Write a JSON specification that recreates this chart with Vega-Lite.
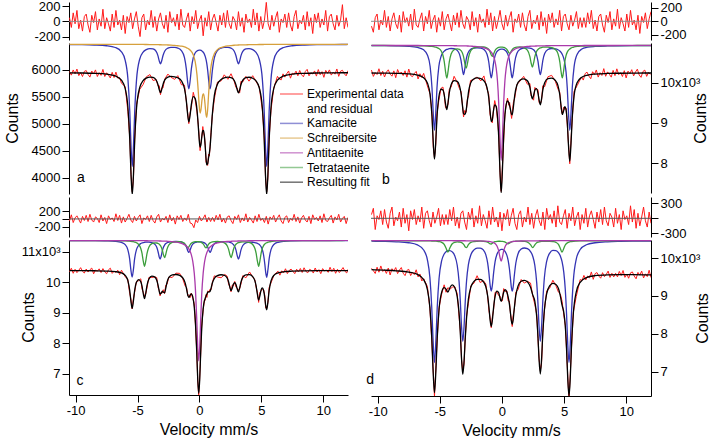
{
"$schema":"https://vega.github.io/schema/vega-lite/v6.json",
"background":"white",
"padding":{"left":4,"top":0,"right":0,"bottom":0},
"config":{
"view":{"stroke":null},
"font":"Liberation Sans",
"locale":{"number":{"decimal":".","thousands":",","grouping":[3],"currency":["$",""],"minus":"-"}},
"axis":{"grid":false,"domainColor":"#000","tickColor":"#000","labelColor":"#000","titleColor":"#000","labelFont":"Liberation Sans","titleFont":"Liberation Sans","labelFontSize":13,"titleFontSize":16,"titleFontWeight":"normal","tickSize":7,"labelPadding":2,"labelOverlap":false,"labelBound":false,"labelFlush":false},
"legend":{"orient":"none","legendX":210,"legendY":86,"symbolType":"stroke","symbolStrokeWidth":1.5,"symbolSize":529,"clipHeight":12,"rowPadding":2.7,"labelFontSize":12,"labelFont":"Liberation Sans","labelColor":"#000","labelOffset":3,"symbolOpacity":0.55,"padding":0}
},
"datasets":{
"res":[
{"x":-10.5,"a":48,"b":-72,"c":-52,"d":75},{"x":-10.35,"a":-80,"b":-162,"c":104,"d":200},{"x":-10.2,"a":112,"b":54,"c":-91,"d":-225},{"x":-10.05,"a":-32,"b":108,"c":26,"d":50},{"x":-9.9,"a":144,"b":-126,"c":78,"d":-25},{"x":-9.75,"a":-96,"b":18,"c":-13,"d":150},{"x":-9.6,"a":16,"b":-54,"c":-104,"d":-125},{"x":-9.45,"a":-128,"b":162,"c":65,"d":175},{"x":-9.3,"a":64,"b":-90,"c":-39,"d":-75},{"x":-9.15,"a":96,"b":72,"c":91,"d":-200},
{"x":-9.0,"a":-48,"b":-144,"c":-65,"d":100},{"x":-8.85,"a":-144,"b":36,"c":117,"d":225},{"x":-8.7,"a":80,"b":126,"c":-26,"d":-150},{"x":-8.55,"a":-16,"b":-36,"c":-78,"d":25},{"x":-8.4,"a":128,"b":-108,"c":52,"d":-50},{"x":-8.25,"a":-112,"b":90,"c":13,"d":125},{"x":-8.1,"a":32,"b":-162,"c":-91,"d":-175},{"x":-7.95,"a":-64,"b":144,"c":104,"d":200},{"x":-7.8,"a":160,"b":-18,"c":-52,"d":-100},{"x":-7.65,"a":-96,"b":54,"c":39,"d":75},
{"x":-7.5,"a":48,"b":-72,"c":-117,"d":-250},{"x":-7.35,"a":-32,"b":108,"c":78,"d":150},{"x":-7.2,"a":-128,"b":-126,"c":-13,"d":-25},{"x":-7.05,"a":96,"b":180,"c":26,"d":175},{"x":-6.9,"a":-80,"b":-54,"c":-65,"d":-125},{"x":-6.75,"a":144,"b":-90,"c":130,"d":50},{"x":-6.6,"a":-48,"b":36,"c":-39,"d":-75},{"x":-6.45,"a":16,"b":126,"c":91,"d":225},{"x":-6.3,"a":-112,"b":-144,"c":-104,"d":-200},{"x":-6.15,"a":80,"b":72,"c":52,"d":100},
{"x":-6.0,"a":-160,"b":-36,"c":-78,"d":150},{"x":-5.85,"a":64,"b":162,"c":13,"d":-50},{"x":-5.7,"a":-16,"b":-108,"c":117,"d":-175},{"x":-5.55,"a":112,"b":18,"c":-26,"d":125},{"x":-5.4,"a":-96,"b":90,"c":-91,"d":-100},{"x":-5.25,"a":32,"b":-162,"c":65,"d":25},{"x":-5.1,"a":128,"b":54,"c":-52,"d":200},{"x":-4.95,"a":-64,"b":-72,"c":39,"d":-150},{"x":-4.8,"a":-200,"b":144,"c":104,"d":75},{"x":-4.65,"a":48,"b":-126,"c":-117,"d":-125},
{"x":-4.5,"a":96,"b":36,"c":26,"d":75},{"x":-4.35,"a":-112,"b":108,"c":-13,"d":-125},{"x":-4.2,"a":16,"b":-18,"c":78,"d":175},{"x":-4.05,"a":-48,"b":-144,"c":-65,"d":-50},{"x":-3.9,"a":144,"b":90,"c":91,"d":225},{"x":-3.75,"a":-80,"b":-54,"c":-39,"d":-150},{"x":-3.6,"a":64,"b":126,"c":-104,"d":25},{"x":-3.45,"a":-128,"b":-90,"c":52,"d":-200},{"x":-3.3,"a":32,"b":162,"c":117,"d":100},{"x":-3.15,"a":112,"b":-36,"c":-78,"d":150},
{"x":-3.0,"a":-32,"b":-108,"c":13,"d":-75},{"x":-2.85,"a":-96,"b":72,"c":-26,"d":-225},{"x":-2.7,"a":80,"b":18,"c":65,"d":125},{"x":-2.55,"a":-144,"b":-126,"c":-91,"d":-25},{"x":-2.4,"a":128,"b":144,"c":104,"d":200},{"x":-2.25,"a":-16,"b":-72,"c":-52,"d":-175},{"x":-2.1,"a":48,"b":54,"c":39,"d":50},{"x":-1.95,"a":-64,"b":-162,"c":-130,"d":-100},{"x":-1.8,"a":96,"b":108,"c":78,"d":250},{"x":-1.65,"a":-112,"b":-18,"c":-13,"d":-150},
{"x":-1.5,"a":160,"b":36,"c":91,"d":75},{"x":-1.35,"a":-48,"b":-90,"c":-65,"d":-50},{"x":-1.2,"a":-80,"b":180,"c":26,"d":-200},{"x":-1.05,"a":32,"b":-54,"c":-39,"d":150},{"x":-0.9,"a":112,"b":126,"c":117,"d":-125},{"x":-0.75,"a":-128,"b":-144,"c":-104,"d":225},{"x":-0.6,"a":64,"b":72,"c":-120,"d":-75},{"x":-0.45,"a":-32,"b":-108,"c":-220,"d":25},{"x":-0.3,"a":144,"b":18,"c":-26,"d":-175},{"x":-0.15,"a":-96,"b":162,"c":-91,"d":125},
{"x":0,"a":16,"b":-36,"c":65,"d":-250},{"x":0.15,"a":80,"b":-126,"c":-52,"d":100},{"x":0.3,"a":-190,"b":90,"c":13,"d":-25},{"x":0.45,"a":48,"b":-72,"c":104,"d":175},{"x":0.6,"a":-64,"b":54,"c":-78,"d":-150},{"x":0.75,"a":128,"b":144,"c":39,"d":50},{"x":0.9,"a":-112,"b":-162,"c":-65,"d":200},{"x":1.05,"a":32,"b":36,"c":39,"d":-100},{"x":1.2,"a":96,"b":-18,"c":-65,"d":-225},{"x":1.35,"a":-16,"b":108,"c":91,"d":75},
{"x":1.5,"a":-128,"b":-90,"c":-26,"d":150},{"x":1.65,"a":80,"b":126,"c":117,"d":-175},{"x":1.8,"a":-48,"b":-54,"c":-78,"d":25},{"x":1.95,"a":112,"b":-144,"c":13,"d":-75},{"x":2.1,"a":-80,"b":72,"c":-104,"d":225},{"x":2.25,"a":144,"b":162,"c":52,"d":-125},{"x":2.4,"a":-32,"b":-108,"c":78,"d":100},{"x":2.55,"a":-96,"b":18,"c":-39,"d":-200},{"x":2.7,"a":64,"b":-36,"c":-117,"d":50},{"x":2.85,"a":16,"b":90,"c":65,"d":175},
{"x":3.0,"a":-112,"b":-126,"c":-13,"d":-50},{"x":3.15,"a":128,"b":144,"c":104,"d":-150},{"x":3.3,"a":-64,"b":-72,"c":-91,"d":125},{"x":3.45,"a":48,"b":54,"c":26,"d":-225},{"x":3.6,"a":-144,"b":-180,"c":-52,"d":200},{"x":3.75,"a":96,"b":108,"c":130,"d":-25},{"x":3.9,"a":-16,"b":-18,"c":-78,"d":75},{"x":4.05,"a":32,"b":126,"c":39,"d":-100},{"x":4.2,"a":-80,"b":-90,"c":-26,"d":150},{"x":4.35,"a":160,"b":36,"c":-104,"d":-175},
{"x":4.5,"a":-48,"b":-54,"c":78,"d":250},{"x":4.65,"a":112,"b":162,"c":-65,"d":-75},{"x":4.8,"a":-128,"b":-144,"c":117,"d":-125},{"x":4.95,"a":64,"b":72,"c":-39,"d":50},{"x":5.1,"a":-96,"b":108,"c":13,"d":175},{"x":5.25,"a":16,"b":-36,"c":-91,"d":-200},{"x":5.4,"a":250,"b":-126,"c":65,"d":100},{"x":5.55,"a":-32,"b":90,"c":-130,"d":-50},{"x":5.7,"a":-112,"b":-72,"c":52,"d":225},{"x":5.85,"a":80,"b":18,"c":-13,"d":-150},
{"x":6.0,"a":-64,"b":144,"c":91,"d":25},{"x":6.15,"a":48,"b":-108,"c":-78,"d":125},{"x":6.3,"a":128,"b":54,"c":26,"d":-225},{"x":6.45,"a":-144,"b":-90,"c":104,"d":75},{"x":6.6,"a":32,"b":54,"c":-52,"d":-100},{"x":6.75,"a":-16,"b":-90,"c":-117,"d":200},{"x":6.9,"a":96,"b":126,"c":39,"d":-175},{"x":7.05,"a":-80,"b":-36,"c":78,"d":50},{"x":7.2,"a":112,"b":162,"c":-91,"d":150},{"x":7.35,"a":-48,"b":-108,"c":13,"d":-25},
{"x":7.5,"a":-128,"b":18,"c":-39,"d":-200},{"x":7.65,"a":64,"b":-144,"c":117,"d":125},{"x":7.8,"a":144,"b":72,"c":-65,"d":-75},{"x":7.95,"a":-96,"b":108,"c":52,"d":175},{"x":8.1,"a":16,"b":-54,"c":-104,"d":-125},{"x":8.25,"a":-32,"b":-162,"c":26,"d":225},{"x":8.4,"a":80,"b":90,"c":91,"d":-50},{"x":8.55,"a":-112,"b":-18,"c":-26,"d":-150},{"x":8.7,"a":128,"b":144,"c":-78,"d":100},{"x":8.85,"a":-64,"b":-126,"c":65,"d":25},
{"x":9.0,"a":48,"b":36,"c":-117,"d":-175},{"x":9.15,"a":-160,"b":-72,"c":104,"d":200},{"x":9.3,"a":96,"b":180,"c":-13,"d":-100},{"x":9.45,"a":-16,"b":-108,"c":39,"d":75},{"x":9.6,"a":112,"b":54,"c":-52,"d":-225},{"x":9.75,"a":-80,"b":-36,"c":78,"d":150},{"x":9.9,"a":32,"b":-144,"c":-91,"d":-25},{"x":10.05,"a":-48,"b":108,"c":130,"d":50},{"x":10.2,"a":144,"b":-90,"c":-39,"d":-125},{"x":10.35,"a":-128,"b":162,"c":-65,"d":250},
{"x":10.5,"a":64,"b":-54,"c":26,"d":-75},{"x":10.65,"a":96,"b":18,"c":91,"d":175},{"x":10.8,"a":-32,"b":-126,"c":-104,"d":-200},{"x":10.95,"a":-112,"b":90,"c":52,"d":100},{"x":11.1,"a":80,"b":-180,"c":-26,"d":-150},{"x":11.25,"a":-64,"b":72,"c":117,"d":25},{"x":11.4,"a":16,"b":-18,"c":-78,"d":225},{"x":11.55,"a":220,"b":126,"c":13,"d":-50},{"x":11.7,"a":-96,"b":-108,"c":65,"d":-175},{"x":11.85,"a":48,"b":36,"c":-117,"d":125},
{"x":12.0,"a":-80,"b":144,"c":39,"d":-100}
],
"ca":[
{"x":-10.5,"k":6461,"s":6466,"f":5938},{"x":-9.5,"k":6459,"s":6466,"f":5936},{"x":-8.5,"k":6453,"s":6466,"f":5930},{"x":-7.5,"k":6439,"s":6465,"f":5915},{"x":-6.8,"k":6407,"s":6465,"f":5883},{"x":-6.3,"k":6327,"s":6464,"f":5802},{"x":-6.0,"k":6170,"s":6464,"f":5645},{"x":-5.78,"k":5824,"s":6464,"f":5299},{"x":-5.63,"k":5228,"s":6464,"f":4703},{"x":-5.53,"k":4596,"s":6464,"f":4071},
{"x":-5.43,"k":4211,"s":6464,"f":3686},{"x":-5.33,"k":4595,"s":6464,"f":4070},{"x":-5.23,"k":5227,"s":6464,"f":4702},{"x":-5.08,"k":5822,"s":6463,"f":5296},{"x":-4.83,"k":6190,"s":6463,"f":5664},{"x":-4.55,"k":6322,"s":6463,"f":5796},{"x":-4.3,"k":6367,"s":6462,"f":5840},{"x":-4.0,"k":6387,"s":6461,"f":5859},{"x":-3.75,"k":6382,"s":6460,"f":5853},{"x":-3.5,"k":6336,"s":6459,"f":5806},
{"x":-3.35,"k":6252,"s":6459,"f":5722},{"x":-3.25,"k":6160,"s":6458,"f":5629},{"x":-3.15,"k":6105,"s":6458,"f":5574},{"x":-3.05,"k":6162,"s":6457,"f":5630},{"x":-2.95,"k":6255,"s":6456,"f":5722},{"x":-2.8,"k":6343,"s":6455,"f":5809},{"x":-2.55,"k":6396,"s":6453,"f":5860},{"x":-2.3,"k":6411,"s":6450,"f":5872},{"x":-2.0,"k":6410,"s":6445,"f":5866},{"x":-1.75,"k":6397,"s":6439,"f":5847},
{"x":-1.46,"k":6350,"s":6431,"f":5792},{"x":-1.21,"k":6219,"s":6417,"f":5647},{"x":-1.06,"k":6006,"s":6404,"f":5421},{"x":-0.96,"k":5780,"s":6394,"f":5185},{"x":-0.86,"k":5642,"s":6379,"f":5032},{"x":-0.76,"k":5778,"s":6361,"f":5150},{"x":-0.66,"k":6002,"s":6335,"f":5348},{"x":-0.5,"k":6219,"s":6269,"f":5499},{"x":-0.35,"k":6306,"s":6150,"f":5467},{"x":-0.2,"k":6344,"s":5901,"f":5256},
{"x":-0.1,"k":6355,"s":5607,"f":4973},{"x":-0.02,"k":6358,"s":5331,"f":4700},{"x":0.05,"k":6357,"s":5197,"f":4565},{"x":0.13,"k":6352,"s":5274,"f":4637},{"x":0.2,"k":6343,"s":5429,"f":4783},{"x":0.27,"k":6329,"s":5534,"f":4874},{"x":0.33,"k":6311,"s":5549,"f":4871},{"x":0.4,"k":6281,"s":5472,"f":4764},{"x":0.47,"k":6238,"s":5310,"f":4559},{"x":0.53,"k":6186,"s":5165,"f":4362},
{"x":0.59,"k":6113,"s":5116,"f":4240},{"x":0.66,"k":5993,"s":5256,"f":4260},{"x":0.74,"k":5814,"s":5550,"f":4375},{"x":0.8,"k":5690,"s":5755,"f":4456},{"x":0.855,"k":5644,"s":5903,"f":4558},{"x":0.93,"k":5728,"s":6050,"f":4789},{"x":1.03,"k":5956,"s":6175,"f":5142},{"x":1.2,"k":6216,"s":6291,"f":5518},{"x":1.45,"k":6348,"s":6367,"f":5726},{"x":1.75,"k":6397,"s":6407,"f":5815},
{"x":2.0,"k":6410,"s":6425,"f":5846},{"x":2.3,"k":6411,"s":6437,"f":5859},{"x":2.55,"k":6396,"s":6443,"f":5850},{"x":2.8,"k":6343,"s":6448,"f":5802},{"x":2.95,"k":6255,"s":6450,"f":5716},{"x":3.05,"k":6162,"s":6452,"f":5625},{"x":3.15,"k":6105,"s":6453,"f":5569},{"x":3.25,"k":6160,"s":6454,"f":5625},{"x":3.35,"k":6252,"s":6455,"f":5718},{"x":3.5,"k":6336,"s":6456,"f":5803},
{"x":3.75,"k":6382,"s":6457,"f":5850},{"x":4.0,"k":6387,"s":6459,"f":5857},{"x":4.3,"k":6367,"s":6460,"f":5838},{"x":4.55,"k":6322,"s":6461,"f":5794},{"x":4.83,"k":6190,"s":6462,"f":5663},{"x":5.08,"k":5822,"s":6462,"f":5295},{"x":5.23,"k":5227,"s":6463,"f":4701},{"x":5.33,"k":4595,"s":6463,"f":4069},{"x":5.43,"k":4211,"s":6463,"f":3685},{"x":5.53,"k":4596,"s":6463,"f":4070},
{"x":5.63,"k":5228,"s":6463,"f":4702},{"x":5.78,"k":5824,"s":6463,"f":5298},{"x":6.0,"k":6170,"s":6464,"f":5645},{"x":6.3,"k":6327,"s":6464,"f":5802},{"x":6.8,"k":6407,"s":6465,"f":5883},{"x":7.5,"k":6439,"s":6465,"f":5915},{"x":8.5,"k":6453,"s":6466,"f":5930},{"x":9.5,"k":6459,"s":6466,"f":5936},{"x":10.5,"k":6461,"s":6466,"f":5938},{"x":11.5,"k":6462,"s":6466,"f":5940},
{"x":12,"k":6463,"s":6466,"f":5940}
],
"da":[
{"x":-10.5,"y":5961},{"x":-10.35,"y":5896},{"x":-10.2,"y":5992},{"x":-10.05,"y":5920},{"x":-9.9,"y":6008},{"x":-9.75,"y":5887},{"x":-9.6,"y":5943},{"x":-9.45,"y":5870},{"x":-9.3,"y":5966},{"x":-9.15,"y":5981},{"x":-9.0,"y":5908},{"x":-8.85,"y":5860},{"x":-8.7,"y":5971},{"x":-8.55,"y":5922},{"x":-8.4,"y":5993},{"x":-8.25,"y":5871},{"x":-8.1,"y":5942},{"x":-7.95,"y":5892},{"x":-7.8,"y":6002},{"x":-7.65,"y":5871},{"x":-7.5,"y":5940},{"x":-7.35,"y":5896},{"x":-7.2,"y":5843},{"x":-7.05,"y":5948},{"x":-6.9,"y":5852},{"x":-6.75,"y":5952},{"x":-6.6,"y":5840},{"x":-6.45,"y":5850},
{"x":-6.3,"y":5746},{"x":-6.0,"y":5685},{"x":-5.78,"y":5219},{"x":-5.63,"y":4735},{"x":-5.53,"y":4063},{"x":-5.43,"y":3742},{"x":-5.33,"y":4022},{"x":-5.23,"y":4718},{"x":-5.08,"y":5360},{"x":-4.83,"y":5632},{"x":-4.55,"y":5724},{"x":-4.3,"y":5864},{"x":-4.0,"y":5907},{"x":-3.75,"y":5797},{"x":-3.5,"y":5814},{"x":-3.35,"y":5698},{"x":-3.25,"y":5701},{"x":-3.15,"y":5534},{"x":-3.05,"y":5662},{"x":-2.95,"y":5658},{"x":-2.8,"y":5825},{"x":-2.55,"y":5916},{"x":-2.3,"y":5856},{"x":-2.0,"y":5818},{"x":-1.75,"y":5887},{"x":-1.46,"y":5720},{"x":-1.21,"y":5711},{"x":-1.06,"y":5413},{"x":-0.96,"y":5209},{"x":-0.86,"y":5000},{"x":-0.76,"y":5198},{"x":-0.66,"y":5292},{"x":-0.5,"y":5579},{"x":-0.35,"y":5443},{"x":-0.2,"y":5216},{"x":-0.1,"y":4989},{"x":-0.02,"y":4756},{"x":0.05,"y":4501},{"x":0.13,"y":4669},{"x":0.2,"y":4767},{"x":0.27,"y":4946},{"x":0.33,"y":4823},{"x":0.4,"y":4772},{"x":0.47,"y":4599},{"x":0.53,"y":4290},{"x":0.59,"y":4264},{"x":0.66,"y":4228},{"x":0.74,"y":4439},{"x":0.8,"y":4400},{"x":0.855,"y":4574},{"x":0.93,"y":4837},{"x":1.03,"y":5134},{"x":1.2,"y":5454},{"x":1.45,"y":5766},{"x":1.75,"y":5791},{"x":2.0,"y":5902},{"x":2.3,"y":5819},{"x":2.55,"y":5922},{"x":2.8,"y":5786},{"x":2.95,"y":5668},{"x":3.05,"y":5657},{"x":3.15,"y":5577},{"x":3.25,"y":5569},{"x":3.35,"y":5782},{"x":3.5,"y":5771},{"x":3.75,"y":5874},{"x":4.0,"y":5785},{"x":4.3,"y":5886},{"x":4.55,"y":5786},{"x":4.83,"y":5679},{"x":5.08,"y":5255},{"x":5.23,"y":4781},{"x":5.33,"y":4045},{"x":5.43,"y":3741},{"x":5.53,"y":4006},{"x":5.63,"y":4734},{"x":5.78,"y":5250},{"x":6.0,"y":5653},{"x":6.3,"y":5874},
{"x":6.45,"y":5826},{"x":6.6,"y":5808},{"x":6.75,"y":5920},{"x":6.9,"y":5860},{"x":7.05,"y":5924},{"x":7.2,"y":5971},{"x":7.35,"y":5840},{"x":7.5,"y":5932},{"x":7.65,"y":5911},{"x":7.8,"y":5970},{"x":7.95,"y":5884},{"x":8.1,"y":5982},{"x":8.25,"y":5903},{"x":8.4,"y":5865},{"x":8.55,"y":5962},{"x":8.7,"y":6003},{"x":8.85,"y":5884},{"x":9.0,"y":5940},{"x":9.15,"y":5917},{"x":9.3,"y":5974},{"x":9.45,"y":5878},{"x":9.6,"y":5999},{"x":9.75,"y":5903},{"x":9.9,"y":5960},{"x":10.05,"y":5856},{"x":10.2,"y":5984},{"x":10.35,"y":5929},{"x":10.5,"y":5993},{"x":10.65,"y":5897},{"x":10.8,"y":5953},{"x":10.95,"y":5914},{"x":11.1,"y":6010},{"x":11.25,"y":5874},{"x":11.4,"y":5970},{"x":11.55,"y":5986},{"x":11.7,"y":5923},{"x":11.85,"y":5883},{"x":12.0,"y":5979}
],
"cb":[
{"x":-10.5,"k":10920,"t":10923,"n":10924,"f":10240},{"x":-9.5,"k":10918,"t":10923,"n":10924,"f":10237},{"x":-8.5,"k":10914,"t":10922,"n":10923,"f":10232},{"x":-7.5,"k":10903,"t":10920,"n":10923,"f":10219},{"x":-6.8,"k":10877,"t":10917,"n":10923,"f":10190},{"x":-6.3,"k":10815,"t":10913,"n":10922,"f":10123},{"x":-6.0,"k":10689,"t":10909,"n":10922,"f":9993},{"x":-5.78,"k":10402,"t":10904,"n":10922,"f":9701},{"x":-5.63,"k":9868,"t":10899,"n":10921,"f":9161},{"x":-5.53,"k":9238,"t":10895,"n":10921,"f":8527},
{"x":-5.43,"k":8818,"t":10890,"n":10921,"f":8102},{"x":-5.33,"k":9237,"t":10882,"n":10921,"f":8513},{"x":-5.23,"k":9867,"t":10872,"n":10921,"f":9133},{"x":-5.08,"k":10398,"t":10848,"n":10920,"f":9640},{"x":-4.9,"k":10652,"t":10792,"n":10920,"f":9837},{"x":-4.75,"k":10745,"t":10682,"n":10920,"f":9820},{"x":-4.64,"k":10784,"t":10517,"n":10920,"f":9694},{"x":-4.54,"k":10808,"t":10276,"n":10919,"f":9476},{"x":-4.44,"k":10825,"t":10115,"n":10919,"f":9332},{"x":-4.34,"k":10836,"t":10274,"n":10919,"f":9502},
{"x":-4.24,"k":10843,"t":10512,"n":10918,"f":9747},{"x":-4.09,"k":10849,"t":10712,"n":10918,"f":9952},{"x":-3.85,"k":10842,"t":10819,"n":10917,"f":10051},{"x":-3.6,"k":10801,"t":10841,"n":10916,"f":10031},{"x":-3.42,"k":10710,"t":10828,"n":10915,"f":9926},{"x":-3.29,"k":10550,"t":10794,"n":10914,"f":9732},{"x":-3.19,"k":10341,"t":10742,"n":10914,"f":9470},{"x":-3.09,"k":10202,"t":10645,"n":10913,"f":9233},{"x":-2.99,"k":10343,"t":10486,"n":10913,"f":9215},{"x":-2.88,"k":10570,"t":10360,"n":10912,"f":9315},
{"x":-2.78,"k":10698,"t":10472,"n":10911,"f":9554},{"x":-2.68,"k":10769,"t":10638,"n":10910,"f":9790},{"x":-2.53,"k":10823,"t":10779,"n":10908,"f":9983},{"x":-2.3,"k":10858,"t":10854,"n":10902,"f":10087},{"x":-2.0,"k":10867,"t":10883,"n":10895,"f":10118},{"x":-1.7,"k":10857,"t":10891,"n":10883,"f":10104},{"x":-1.45,"k":10822,"t":10886,"n":10867,"f":10048},{"x":-1.2,"k":10704,"t":10862,"n":10840,"f":9879},{"x":-1.06,"k":10514,"t":10824,"n":10815,"f":9626},{"x":-0.96,"k":10280,"t":10768,"n":10791,"f":9312},
{"x":-0.86,"k":10123,"t":10688,"n":10757,"f":9041},{"x":-0.78,"k":10230,"t":10652,"n":10721,"f":9076},{"x":-0.68,"k":10471,"t":10704,"n":10656,"f":9304},{"x":-0.58,"k":10637,"t":10781,"n":10558,"f":9449},{"x":-0.46,"k":10742,"t":10838,"n":10355,"f":9408},{"x":-0.36,"k":10787,"t":10862,"n":10048,"f":9170},{"x":-0.26,"k":10813,"t":10875,"n":9500,"f":8661},{"x":-0.16,"k":10827,"t":10882,"n":8645,"f":7827},{"x":-0.06,"k":10834,"t":10885,"n":8075,"f":7267},{"x":0.04,"k":10834,"t":10884,"n":8645,"f":7836},
{"x":0.14,"k":10827,"t":10876,"n":9500,"f":8676},{"x":0.24,"k":10807,"t":10866,"n":10048,"f":9194},{"x":0.34,"k":10780,"t":10845,"n":10355,"f":9453},{"x":0.45,"k":10725,"t":10803,"n":10545,"f":9546},{"x":0.55,"k":10633,"t":10747,"n":10648,"f":9501},{"x":0.62,"k":10527,"t":10728,"n":10698,"f":9426},{"x":0.7,"k":10351,"t":10753,"n":10740,"f":9317},{"x":0.78,"k":10166,"t":10798,"n":10772,"f":9209},{"x":0.83,"k":10121,"t":10822,"n":10788,"f":9204},{"x":0.93,"k":10277,"t":10854,"n":10813,"f":9417},
{"x":1.03,"k":10512,"t":10872,"n":10832,"f":9689},{"x":1.2,"k":10725,"t":10885,"n":10855,"f":9938},{"x":1.45,"k":10827,"t":10887,"n":10876,"f":10063},{"x":1.75,"k":10861,"t":10872,"n":10891,"f":10097},{"x":2.05,"k":10866,"t":10808,"n":10900,"f":10047},{"x":2.25,"k":10858,"t":10649,"n":10904,"f":9884},{"x":2.35,"k":10850,"t":10489,"n":10906,"f":9718},{"x":2.45,"k":10836,"t":10384,"n":10907,"f":9600},{"x":2.55,"k":10815,"t":10490,"n":10908,"f":9686},{"x":2.65,"k":10780,"t":10648,"n":10909,"f":9810},
{"x":2.77,"k":10704,"t":10764,"n":10911,"f":9852},{"x":2.9,"k":10533,"t":10825,"n":10912,"f":9743},{"x":2.99,"k":10340,"t":10848,"n":10913,"f":9574},{"x":3.09,"k":10200,"t":10864,"n":10914,"f":9451},{"x":3.19,"k":10339,"t":10873,"n":10914,"f":9599},{"x":3.29,"k":10548,"t":10880,"n":10915,"f":9816},{"x":3.44,"k":10724,"t":10885,"n":10916,"f":9998},{"x":3.7,"k":10823,"t":10885,"n":10917,"f":10098},{"x":4.0,"k":10848,"t":10872,"n":10918,"f":10111},{"x":4.3,"k":10840,"t":10825,"n":10919,"f":10057},
{"x":4.51,"k":10817,"t":10720,"n":10919,"f":9929},{"x":4.66,"k":10785,"t":10517,"n":10920,"f":9695},{"x":4.76,"k":10752,"t":10278,"n":10920,"f":9423},{"x":4.86,"k":10701,"t":10118,"n":10920,"f":9212},{"x":4.96,"k":10623,"t":10278,"n":10920,"f":9294},{"x":5.06,"k":10493,"t":10518,"n":10921,"f":9405},{"x":5.16,"k":10268,"t":10673,"n":10921,"f":9335},{"x":5.26,"k":9865,"t":10759,"n":10921,"f":9018},{"x":5.36,"k":9235,"t":10809,"n":10921,"f":8438},{"x":5.46,"k":8816,"t":10839,"n":10921,"f":8049},
{"x":5.56,"k":9236,"t":10859,"n":10921,"f":8489},{"x":5.66,"k":9867,"t":10873,"n":10921,"f":9134},{"x":5.81,"k":10400,"t":10886,"n":10922,"f":9681},{"x":6.06,"k":10708,"t":10899,"n":10922,"f":10002},{"x":6.4,"k":10828,"t":10907,"n":10922,"f":10130},{"x":6.9,"k":10880,"t":10914,"n":10923,"f":10189},{"x":7.5,"k":10900,"t":10917,"n":10923,"f":10214},{"x":8.5,"k":10912,"t":10920,"n":10923,"f":10229},{"x":9.5,"k":10917,"t":10921,"n":10924,"f":10235},{"x":10.5,"k":10919,"t":10922,"n":10924,"f":10238},
{"x":11.5,"k":10921,"t":10923,"n":10924,"f":10241},{"x":12,"k":10921,"t":10923,"n":10924,"f":10241}
],
"db":[
{"x":-10.5,"y":10312},{"x":-10.35,"y":10156},{"x":-10.2,"y":10251},{"x":-10.05,"y":10203},{"x":-9.9,"y":10346},{"x":-9.75,"y":10178},{"x":-9.6,"y":10285},{"x":-9.45,"y":10141},{"x":-9.3,"y":10260},{"x":-9.15,"y":10320},{"x":-9.0,"y":10211},{"x":-8.85,"y":10162},{"x":-8.7,"y":10293},{"x":-8.55,"y":10124},{"x":-8.4,"y":10327},{"x":-8.25,"y":10218},{"x":-8.1,"y":10264},{"x":-7.95,"y":10178},{"x":-7.8,"y":10296},{"x":-7.65,"y":10138},{"x":-7.5,"y":10339},{"x":-7.35,"y":10179},{"x":-7.2,"y":10150},{"x":-7.05,"y":10228},{"x":-6.9,"y":10281},{"x":-6.75,"y":10091},{"x":-6.6,"y":10221},{"x":-6.45,"y":10130},
{"x":-6.3,"y":10231},{"x":-6.0,"y":9921},{"x":-5.78,"y":9713},{"x":-5.63,"y":9221},{"x":-5.53,"y":8419},{"x":-5.43,"y":8138},{"x":-5.33,"y":8465},{"x":-5.23,"y":9229},{"x":-5.08,"y":9556},{"x":-4.9,"y":9861},{"x":-4.75,"y":9892},{"x":-4.64,"y":9682},{"x":-4.54,"y":9380},{"x":-4.44,"y":9392},{"x":-4.34,"y":9466},{"x":-4.24,"y":9831},{"x":-4.09,"y":9892},{"x":-3.85,"y":10159},{"x":-3.6,"y":10007},{"x":-3.42,"y":9854},{"x":-3.29,"y":9780},{"x":-3.19,"y":9482},{"x":-3.09,"y":9149},{"x":-2.99,"y":9311},{"x":-2.88,"y":9267},{"x":-2.78,"y":9590},{"x":-2.68,"y":9682},{"x":-2.53,"y":10055},{"x":-2.3,"y":10075},{"x":-2.0,"y":10142},{"x":-1.7,"y":10044},{"x":-1.45,"y":10168},{"x":-1.2,"y":9843},{"x":-1.06,"y":9710},{"x":-0.96,"y":9216},{"x":-0.86,"y":9089},{"x":-0.78,"y":9004},{"x":-0.68,"y":9316},{"x":-0.58,"y":9557},{"x":-0.46,"y":9384},{"x":-0.36,"y":9086},{"x":-0.26,"y":8721},{"x":-0.16,"y":7779},{"x":-0.06,"y":7303},{"x":0.04,"y":7932},{"x":0.14,"y":8568},{"x":0.24,"y":9218},{"x":0.34,"y":9441},{"x":0.45,"y":9618},{"x":0.55,"y":9441},{"x":0.62,"y":9510},{"x":0.7,"y":9281},{"x":0.78,"y":9113},{"x":0.83,"y":9252},{"x":0.93,"y":9525},{"x":1.03,"y":9617},{"x":1.2,"y":9950},{"x":1.45,"y":10039},{"x":1.75,"y":10157},{"x":2.05,"y":9963},{"x":2.25,"y":9980},{"x":2.35,"y":9670},{"x":2.45,"y":9636},{"x":2.55,"y":9566},{"x":2.65,"y":9882},{"x":2.77,"y":9840},{"x":2.9,"y":9827},{"x":2.99,"y":9514},{"x":3.09,"y":9475},{"x":3.19,"y":9563},{"x":3.29,"y":9924},{"x":3.44,"y":9902},{"x":3.7,"y":10146},{"x":4.0,"y":10183},{"x":4.3,"y":10033},{"x":4.51,"y":9845},{"x":4.66,"y":9755},{"x":4.76,"y":9375},{"x":4.86,"y":9224},{"x":4.96,"y":9390},{"x":5.06,"y":9333},{"x":5.16,"y":9371},{"x":5.26,"y":8958},{"x":5.36,"y":8474},{"x":5.46,"y":7989},{"x":5.56,"y":8573},{"x":5.66,"y":9110},{"x":5.81,"y":9789},{"x":6.06,"y":9930},{"x":6.4,"y":10142},
{"x":6.55,"y":10065},{"x":6.7,"y":10226},{"x":6.85,"y":10262},{"x":7.0,"y":10164},{"x":7.15,"y":10099},{"x":7.3,"y":10272},{"x":7.45,"y":10204},{"x":7.6,"y":10316},{"x":7.75,"y":10139},{"x":7.9,"y":10249},{"x":8.05,"y":10179},{"x":8.2,"y":10349},{"x":8.35,"y":10159},{"x":8.5,"y":10268},{"x":8.65,"y":10209},{"x":8.8,"y":10138},{"x":8.95,"y":10306},{"x":9.1,"y":10175},{"x":9.25,"y":10344},{"x":9.4,"y":10200},{"x":9.55,"y":10249},{"x":9.7,"y":10153},{"x":9.85,"y":10298},{"x":10.0,"y":10118},{"x":10.15,"y":10287},{"x":10.3,"y":10227},{"x":10.45,"y":10323},{"x":10.6,"y":10168},{"x":10.75,"y":10264},{"x":10.9,"y":10336},{"x":11.05,"y":10192},{"x":11.2,"y":10133},{"x":11.35,"y":10277},{"x":11.5,"y":10313},{"x":11.65,"y":10157},{"x":11.8,"y":10253},{"x":11.95,"y":10206}
],
"cc":[
{"x":-10.5,"k":11367,"t":11368,"n":11368,"f":10380},{"x":-9.5,"k":11366,"t":11368,"n":11368,"f":10379},{"x":-8.5,"k":11364,"t":11367,"n":11367,"f":10375},{"x":-7.5,"k":11357,"t":11365,"n":11367,"f":10366},{"x":-6.8,"k":11342,"t":11362,"n":11366,"f":10347},{"x":-6.3,"k":11305,"t":11358,"n":11365,"f":10305},{"x":-6.0,"k":11230,"t":11354,"n":11365,"f":10225},{"x":-5.79,"k":11070,"t":11349,"n":11364,"f":10060},{"x":-5.64,"k":10765,"t":11344,"n":11364,"f":9750},{"x":-5.54,"k":10405,"t":11340,"n":11364,"f":9386},
{"x":-5.44,"k":10164,"t":11334,"n":11364,"f":9139},{"x":-5.34,"k":10404,"t":11327,"n":11363,"f":9371},{"x":-5.24,"k":10763,"t":11316,"n":11363,"f":9719},{"x":-5.09,"k":11067,"t":11293,"n":11363,"f":10000},{"x":-4.9,"k":11216,"t":11231,"n":11362,"f":10086},{"x":-4.74,"k":11269,"t":11105,"n":11361,"f":10012},{"x":-4.64,"k":11287,"t":10943,"n":11361,"f":9868},{"x":-4.54,"k":11300,"t":10690,"n":11361,"f":9628},{"x":-4.44,"k":11308,"t":10521,"n":11360,"f":9466},{"x":-4.34,"k":11313,"t":10688,"n":11360,"f":9638},
{"x":-4.24,"k":11316,"t":10939,"n":11359,"f":9891},{"x":-4.09,"k":11315,"t":11149,"n":11358,"f":10099},{"x":-3.85,"k":11301,"t":11263,"n":11357,"f":10198},{"x":-3.6,"k":11243,"t":11290,"n":11355,"f":10165},{"x":-3.45,"k":11144,"t":11286,"n":11354,"f":10061},{"x":-3.33,"k":10974,"t":11269,"n":11353,"f":9873},{"x":-3.25,"k":10824,"t":11248,"n":11352,"f":9701},{"x":-3.18,"k":10759,"t":11219,"n":11352,"f":9607},{"x":-3.1,"k":10842,"t":11165,"n":11351,"f":9635},{"x":-3.0,"k":11028,"t":11049,"n":11349,"f":9703},
{"x":-2.92,"k":11137,"t":10914,"n":11348,"f":9676},{"x":-2.82,"k":11219,"t":10806,"n":11347,"f":9649},{"x":-2.72,"k":11266,"t":10917,"n":11345,"f":9805},{"x":-2.62,"k":11294,"t":11084,"n":11343,"f":9998},{"x":-2.47,"k":11318,"t":11225,"n":11340,"f":10160},{"x":-2.2,"k":11332,"t":11305,"n":11329,"f":10242},{"x":-1.9,"k":11335,"t":11327,"n":11314,"f":10253},{"x":-1.6,"k":11327,"t":11328,"n":11291,"f":10223},{"x":-1.35,"k":11301,"t":11308,"n":11258,"f":10144},{"x":-1.15,"k":11233,"t":11244,"n":11216,"f":9970},
{"x":-1.04,"k":11146,"t":11170,"n":11181,"f":9774},{"x":-0.94,"k":11028,"t":11125,"n":11138,"f":9568},{"x":-0.86,"k":10976,"t":11156,"n":11093,"f":9502},{"x":-0.76,"k":11052,"t":11227,"n":11015,"f":9571},{"x":-0.66,"k":11165,"t":11276,"n":10902,"f":9620},{"x":-0.54,"k":11248,"t":11307,"n":10685,"f":9517},{"x":-0.42,"k":11288,"t":11322,"n":10297,"f":9184},{"x":-0.32,"k":11306,"t":11328,"n":9723,"f":8634},{"x":-0.22,"k":11316,"t":11330,"n":8789,"f":7712},{"x":-0.14,"k":11321,"t":11330,"n":7885,"f":6813},
{"x":-0.06,"k":11323,"t":11327,"n":7420,"f":6347},{"x":0.02,"k":11324,"t":11321,"n":7885,"f":6807},{"x":0.1,"k":11323,"t":11314,"n":8789,"f":7703},{"x":0.18,"k":11319,"t":11299,"n":9568,"f":8463},{"x":0.3,"k":11307,"t":11255,"n":10297,"f":9135},{"x":0.4,"k":11290,"t":11192,"n":10635,"f":9394},{"x":0.47,"k":11272,"t":11143,"n":10790,"f":9482},{"x":0.53,"k":11249,"t":11125,"n":10888,"f":9539},{"x":0.6,"k":11209,"t":11150,"n":10975,"f":9611},{"x":0.68,"k":11139,"t":11207,"n":11050,"f":9673},
{"x":0.76,"k":11045,"t":11255,"n":11105,"f":9682},{"x":0.855,"k":10975,"t":11290,"n":11154,"f":9696},{"x":0.95,"k":11045,"t":11310,"n":11191,"f":9823},{"x":1.05,"k":11160,"t":11322,"n":11221,"f":9980},{"x":1.2,"k":11259,"t":11331,"n":11253,"f":10120},{"x":1.45,"k":11315,"t":11334,"n":11288,"f":10214},{"x":1.75,"k":11332,"t":11323,"n":11313,"f":10245},{"x":2.05,"k":11332,"t":11282,"n":11328,"f":10219},{"x":2.25,"k":11325,"t":11189,"n":11335,"f":10126},{"x":2.35,"k":11319,"t":11083,"n":11337,"f":10016},
{"x":2.45,"k":11309,"t":10918,"n":11340,"f":9844},{"x":2.55,"k":11294,"t":10808,"n":11342,"f":9721},{"x":2.65,"k":11272,"t":10917,"n":11344,"f":9810},{"x":2.75,"k":11235,"t":11082,"n":11346,"f":9940},{"x":2.85,"k":11170,"t":11187,"n":11348,"f":9982},{"x":2.95,"k":11054,"t":11245,"n":11349,"f":9925},{"x":3.05,"k":10874,"t":11279,"n":11350,"f":9781},{"x":3.15,"k":10754,"t":11298,"n":11352,"f":9681},{"x":3.25,"k":10873,"t":11310,"n":11353,"f":9813},{"x":3.35,"k":11053,"t":11318,"n":11354,"f":10002},
{"x":3.5,"k":11204,"t":11323,"n":11355,"f":10159},{"x":3.75,"k":11288,"t":11321,"n":11357,"f":10243},{"x":4.05,"k":11312,"t":11299,"n":11359,"f":10247},{"x":4.3,"k":11311,"t":11236,"n":11360,"f":10184},{"x":4.48,"k":11301,"t":11103,"n":11361,"f":10042},{"x":4.58,"k":11291,"t":10942,"n":11361,"f":9871},{"x":4.68,"k":11276,"t":10691,"n":11361,"f":9605},{"x":4.78,"k":11253,"t":10523,"n":11362,"f":9415},{"x":4.88,"k":11218,"t":10695,"n":11362,"f":9552},{"x":4.98,"k":11161,"t":10947,"n":11362,"f":9747},
{"x":5.08,"k":11064,"t":11108,"n":11363,"f":9812},{"x":5.18,"k":10892,"t":11199,"n":11363,"f":9731},{"x":5.28,"k":10593,"t":11251,"n":11363,"f":9484},{"x":5.35,"k":10327,"t":11275,"n":11363,"f":9242},{"x":5.43,"k":10162,"t":11295,"n":11363,"f":9097},{"x":5.53,"k":10402,"t":11311,"n":11364,"f":9354},{"x":5.63,"k":10763,"t":11323,"n":11364,"f":9727},{"x":5.78,"k":11068,"t":11335,"n":11364,"f":10044},{"x":6.03,"k":11244,"t":11347,"n":11365,"f":10232},{"x":6.35,"k":11310,"t":11354,"n":11365,"f":10306},
{"x":6.85,"k":11342,"t":11360,"n":11366,"f":10345},{"x":7.5,"k":11355,"t":11364,"n":11367,"f":10362},{"x":8.5,"k":11362,"t":11366,"n":11367,"f":10372},{"x":9.5,"k":11365,"t":11367,"n":11368,"f":10377},{"x":10.5,"k":11366,"t":11368,"n":11368,"f":10379},{"x":11.5,"k":11367,"t":11368,"n":11369,"f":10381},{"x":12,"k":11367,"t":11369,"n":11369,"f":10382}
],
"dc":[
{"x":-10.5,"y":10347},{"x":-10.35,"y":10457},{"x":-10.2,"y":10292},{"x":-10.05,"y":10424},{"x":-9.9,"y":10313},{"x":-9.75,"y":10390},{"x":-9.6,"y":10477},{"x":-9.45,"y":10356},{"x":-9.3,"y":10301},{"x":-9.15,"y":10432},{"x":-9.0,"y":10333},{"x":-8.85,"y":10409},{"x":-8.7,"y":10463},{"x":-8.55,"y":10276},{"x":-8.4,"y":10396},{"x":-8.25,"y":10362},{"x":-8.1,"y":10438},{"x":-7.95,"y":10316},{"x":-7.8,"y":10446},{"x":-7.65,"y":10335},{"x":-7.5,"y":10278},{"x":-7.35,"y":10407},{"x":-7.2,"y":10459},{"x":-7.05,"y":10290},{"x":-6.9,"y":10362},{"x":-6.75,"y":10323},{"x":-6.6,"y":10392},{"x":-6.45,"y":10247},
{"x":-6.3,"y":10393},{"x":-6.0,"y":10181},{"x":-5.79,"y":10093},{"x":-5.64,"y":9640},{"x":-5.54,"y":9452},{"x":-5.44,"y":9128},{"x":-5.34,"y":9448},{"x":-5.24,"y":9664},{"x":-5.09,"y":10022},{"x":-4.9,"y":10053},{"x":-4.74,"y":10111},{"x":-4.64,"y":9780},{"x":-4.54,"y":9672},{"x":-4.44,"y":9532},{"x":-4.34,"y":9616},{"x":-4.24,"y":9814},{"x":-4.09,"y":10154},{"x":-3.85,"y":10154},{"x":-3.6,"y":10176},{"x":-3.45,"y":10149},{"x":-3.33,"y":9807},{"x":-3.25,"y":9734},{"x":-3.18,"y":9552},{"x":-3.1,"y":9668},{"x":-3.0,"y":9648},{"x":-2.92,"y":9753},{"x":-2.82,"y":9627},{"x":-2.72,"y":9904},{"x":-2.62,"y":9932},{"x":-2.47,"y":10171},{"x":-2.2,"y":10154},{"x":-1.9,"y":10297},{"x":-1.6,"y":10289},{"x":-1.35,"y":10111},{"x":-1.15,"y":9871},{"x":-1.04,"y":9829},{"x":-0.94,"y":9557},{"x":-0.86,"y":9590},{"x":-0.76,"y":9494},{"x":-0.66,"y":9642},{"x":-0.54,"y":9473},{"x":-0.42,"y":9294},{"x":-0.32,"y":8568},{"x":-0.22,"y":7745},{"x":-0.14,"y":6791},{"x":-0.06,"y":6259},{"x":0.02,"y":6873},{"x":0.1,"y":7648},{"x":0.18,"y":8562},{"x":0.3,"y":9102},{"x":0.4,"y":9405},{"x":0.47,"y":9405},{"x":0.53,"y":9594},{"x":0.6,"y":9501},{"x":0.68,"y":9717},{"x":0.76,"y":9671},{"x":0.855,"y":9773},{"x":0.95,"y":9757},{"x":1.05,"y":10002},{"x":1.2,"y":10208},{"x":1.45,"y":10170},{"x":1.75,"y":10146},{"x":2.05,"y":10252},{"x":2.25,"y":10192},{"x":2.35,"y":9939},{"x":2.45,"y":9855},{"x":2.55,"y":9688},{"x":2.65,"y":9909},{"x":2.75,"y":9885},{"x":2.85,"y":10026},{"x":2.95,"y":9837},{"x":3.05,"y":9803},{"x":3.15,"y":9758},{"x":3.25,"y":9791},{"x":3.35,"y":9936},{"x":3.5,"y":10214},{"x":3.75,"y":10144},{"x":4.05,"y":10335},{"x":4.3,"y":10173},{"x":4.48,"y":10075},{"x":4.58,"y":9827},{"x":4.68,"y":9671},{"x":4.78,"y":9338},{"x":4.88,"y":9662},{"x":4.98,"y":9714},{"x":5.08,"y":9757},{"x":5.18,"y":9753},{"x":5.28,"y":9561},{"x":5.35,"y":9154},{"x":5.43,"y":9141},{"x":5.53,"y":9332},{"x":5.63,"y":9826},{"x":5.78,"y":9978},{"x":6.03,"y":10243},{"x":6.35,"y":10361},
{"x":6.5,"y":10230},{"x":6.65,"y":10373},{"x":6.8,"y":10304},{"x":6.95,"y":10441},{"x":7.1,"y":10281},{"x":7.25,"y":10384},{"x":7.4,"y":10430},{"x":7.55,"y":10356},{"x":7.7,"y":10280},{"x":7.85,"y":10425},{"x":8.0,"y":10339},{"x":8.15,"y":10450},{"x":8.3,"y":10319},{"x":8.45,"y":10473},{"x":8.6,"y":10353},{"x":8.75,"y":10310},{"x":8.9,"y":10420},{"x":9.05,"y":10388},{"x":9.2,"y":10300},{"x":9.35,"y":10466},{"x":9.5,"y":10334},{"x":9.65,"y":10411},{"x":9.8,"y":10280},{"x":9.95,"y":10445},{"x":10.1,"y":10368},{"x":10.25,"y":10401},{"x":10.4,"y":10324},{"x":10.55,"y":10490},{"x":10.7,"y":10347},{"x":10.85,"y":10457},{"x":11.0,"y":10292},{"x":11.15,"y":10424},{"x":11.3,"y":10315},{"x":11.45,"y":10392},{"x":11.6,"y":10480},{"x":11.75,"y":10359},{"x":11.9,"y":10305},{"x":12.0,"y":10422}
],
"cd":[
{"x":-10.5,"k":10445,"t":10457,"n":10458,"f":9692},{"x":-9.5,"k":10440,"t":10457,"n":10458,"f":9680},{"x":-8.5,"k":10429,"t":10457,"n":10458,"f":9663},{"x":-7.5,"k":10403,"t":10456,"n":10458,"f":9629},{"x":-6.8,"k":10346,"t":10455,"n":10458,"f":9567},{"x":-6.3,"k":10211,"t":10454,"n":10457,"f":9428},{"x":-6.0,"k":9953,"t":10453,"n":10457,"f":9166},{"x":-5.8,"k":9488,"t":10451,"n":10457,"f":8698},{"x":-5.65,"k":8699,"t":10450,"n":10457,"f":7907},{"x":-5.55,"k":7880,"t":10448,"n":10457,"f":7086},
{"x":-5.43,"k":7241,"t":10446,"n":10457,"f":6444},{"x":-5.31,"k":7873,"t":10444,"n":10457,"f":7073},{"x":-5.21,"k":8687,"t":10441,"n":10457,"f":7884},{"x":-5.06,"k":9467,"t":10434,"n":10457,"f":8655},{"x":-4.85,"k":9932,"t":10414,"n":10457,"f":9099},{"x":-4.65,"k":10107,"t":10363,"n":10457,"f":9221},{"x":-4.5,"k":10168,"t":10263,"n":10457,"f":9181},{"x":-4.35,"k":10195,"t":10154,"n":10457,"f":9099},{"x":-4.2,"k":10198,"t":10261,"n":10457,"f":9208},{"x":-4.0,"k":10163,"t":10378,"n":10457,"f":9289},
{"x":-3.8,"k":10062,"t":10414,"n":10456,"f":9222},{"x":-3.6,"k":9810,"t":10424,"n":10456,"f":8979},{"x":-3.45,"k":9378,"t":10423,"n":10456,"f":8545},{"x":-3.35,"k":8861,"t":10418,"n":10456,"f":8022},{"x":-3.25,"k":8183,"t":10407,"n":10456,"f":7332},{"x":-3.15,"k":7799,"t":10385,"n":10456,"f":6926},{"x":-3.05,"k":8185,"t":10346,"n":10456,"f":7271},{"x":-2.95,"k":8867,"t":10291,"n":10456,"f":7898},{"x":-2.85,"k":9387,"t":10276,"n":10455,"f":8402},{"x":-2.7,"k":9824,"t":10353,"n":10455,"f":8915},
{"x":-2.5,"k":10085,"t":10413,"n":10455,"f":9234},{"x":-2.25,"k":10215,"t":10436,"n":10454,"f":9385},{"x":-2.0,"k":10263,"t":10443,"n":10452,"f":9437},{"x":-1.75,"k":10264,"t":10445,"n":10451,"f":9437},{"x":-1.5,"k":10213,"t":10443,"n":10448,"f":9379},{"x":-1.3,"k":10089,"t":10435,"n":10444,"f":9243},{"x":-1.15,"k":9870,"t":10419,"n":10440,"f":9003},{"x":-1.05,"k":9610,"t":10398,"n":10437,"f":8718},{"x":-0.95,"k":9282,"t":10373,"n":10432,"f":8359},{"x":-0.86,"k":9127,"t":10371,"n":10426,"f":8196},
{"x":-0.77,"k":9281,"t":10393,"n":10418,"f":8363},{"x":-0.67,"k":9607,"t":10416,"n":10406,"f":8699},{"x":-0.55,"k":9905,"t":10431,"n":10381,"f":8986},{"x":-0.4,"k":10099,"t":10440,"n":10319,"f":9126},{"x":-0.26,"k":10184,"t":10443,"n":10188,"f":9082},{"x":-0.16,"k":10213,"t":10443,"n":10026,"f":8949},{"x":-0.06,"k":10226,"t":10442,"n":9918,"f":8853},{"x":0.04,"k":10226,"t":10440,"n":10026,"f":8957},{"x":0.14,"k":10211,"t":10433,"n":10188,"f":9097},{"x":0.26,"k":10170,"t":10421,"n":10306,"f":9162},
{"x":0.4,"k":10071,"t":10392,"n":10372,"f":9098},{"x":0.5,"k":9940,"t":10377,"n":10397,"f":8977},{"x":0.6,"k":9723,"t":10392,"n":10413,"f":8790},{"x":0.7,"k":9409,"t":10414,"n":10423,"f":8509},{"x":0.76,"k":9224,"t":10424,"n":10428,"f":8337},{"x":0.83,"k":9126,"t":10432,"n":10432,"f":8251},{"x":0.9,"k":9225,"t":10437,"n":10436,"f":8358},{"x":1.0,"k":9545,"t":10441,"n":10439,"f":8686},{"x":1.12,"k":9869,"t":10444,"n":10443,"f":9015},{"x":1.3,"k":10115,"t":10446,"n":10447,"f":9265},
{"x":1.55,"k":10236,"t":10444,"n":10450,"f":9386},{"x":1.8,"k":10265,"t":10439,"n":10452,"f":9410},{"x":2.05,"k":10246,"t":10422,"n":10453,"f":9374},{"x":2.3,"k":10171,"t":10354,"n":10454,"f":9232},{"x":2.48,"k":10048,"t":10274,"n":10455,"f":9027},{"x":2.65,"k":9803,"t":10349,"n":10455,"f":8857},{"x":2.8,"k":9343,"t":10403,"n":10455,"f":8449},{"x":2.9,"k":8802,"t":10420,"n":10455,"f":7925},{"x":2.99,"k":8184,"t":10429,"n":10456,"f":7316},{"x":3.09,"k":7799,"t":10435,"n":10456,"f":6936},
{"x":3.19,"k":8182,"t":10439,"n":10456,"f":7323},{"x":3.29,"k":8861,"t":10441,"n":10456,"f":8004},{"x":3.42,"k":9492,"t":10443,"n":10456,"f":8636},{"x":3.6,"k":9912,"t":10443,"n":10456,"f":9056},{"x":3.85,"k":10131,"t":10441,"n":10456,"f":9271},{"x":4.1,"k":10200,"t":10433,"n":10457,"f":9330},{"x":4.35,"k":10196,"t":10412,"n":10457,"f":9303},{"x":4.55,"k":10142,"t":10358,"n":10457,"f":9195},{"x":4.7,"k":10055,"t":10254,"n":10457,"f":9003},{"x":4.84,"k":9905,"t":10155,"n":10457,"f":8754},
{"x":4.98,"k":9623,"t":10254,"n":10457,"f":8569},{"x":5.1,"k":9171,"t":10344,"n":10457,"f":8207},{"x":5.2,"k":8539,"t":10385,"n":10457,"f":7614},{"x":5.3,"k":7709,"t":10408,"n":10457,"f":6807},{"x":5.4,"k":7241,"t":10422,"n":10457,"f":6352},{"x":5.5,"k":7714,"t":10431,"n":10457,"f":6834},{"x":5.6,"k":8549,"t":10436,"n":10457,"f":7674},{"x":5.75,"k":9411,"t":10442,"n":10457,"f":8541},{"x":5.98,"k":9967,"t":10447,"n":10457,"f":9100},{"x":6.3,"k":10225,"t":10451,"n":10457,"f":9360},
{"x":6.8,"k":10350,"t":10453,"n":10458,"f":9484},{"x":7.5,"k":10403,"t":10455,"n":10458,"f":9535},{"x":8.5,"k":10429,"t":10456,"n":10458,"f":9556},{"x":9.5,"k":10439,"t":10457,"n":10458,"f":9561},{"x":10.5,"k":10444,"t":10457,"n":10458,"f":9560},{"x":11.5,"k":10448,"t":10457,"n":10458,"f":9557},{"x":12,"k":10449,"t":10457,"n":10458,"f":9555}
],
"dd":[
{"x":-10.5,"y":9727},{"x":-10.35,"y":9666},{"x":-10.2,"y":9592},{"x":-10.05,"y":9758},{"x":-9.9,"y":9625},{"x":-9.75,"y":9791},{"x":-9.6,"y":9645},{"x":-9.45,"y":9691},{"x":-9.3,"y":9593},{"x":-9.15,"y":9735},{"x":-9.0,"y":9552},{"x":-8.85,"y":9718},{"x":-8.7,"y":9655},{"x":-8.55,"y":9748},{"x":-8.4,"y":9589},{"x":-8.25,"y":9681},{"x":-8.1,"y":9749},{"x":-7.95,"y":9600},{"x":-7.8,"y":9535},{"x":-7.65,"y":9673},{"x":-7.5,"y":9702},{"x":-7.35,"y":9537},{"x":-7.2,"y":9623},{"x":-7.05,"y":9562},{"x":-6.9,"y":9690},{"x":-6.75,"y":9501},{"x":-6.6,"y":9579},{"x":-6.45,"y":9394},
{"x":-6.3,"y":9452},{"x":-6.0,"y":9250},{"x":-5.8,"y":8674},{"x":-5.65,"y":7835},{"x":-5.55,"y":7146},{"x":-5.43,"y":6336},{"x":-5.31,"y":7169},{"x":-5.21,"y":7872},{"x":-5.06,"y":8691},{"x":-4.85,"y":9051},{"x":-4.65,"y":9293},{"x":-4.5,"y":9097},{"x":-4.35,"y":9219},{"x":-4.2,"y":9172},{"x":-4.0,"y":9229},{"x":-3.8,"y":9246},{"x":-3.6,"y":9063},{"x":-3.45,"y":8449},{"x":-3.35,"y":8070},{"x":-3.25,"y":7308},{"x":-3.15,"y":7034},{"x":-3.05,"y":7199},{"x":-2.95,"y":7910},{"x":-2.85,"y":8462},{"x":-2.7,"y":8807},{"x":-2.5,"y":9270},{"x":-2.25,"y":9337},{"x":-2.0,"y":9533},{"x":-1.75,"y":9353},{"x":-1.5,"y":9403},{"x":-1.3,"y":9315},{"x":-1.15,"y":8991},{"x":-1.05,"y":8622},{"x":-0.95,"y":8419},{"x":-0.86,"y":8160},{"x":-0.77,"y":8447},{"x":-0.67,"y":8639},{"x":-0.55,"y":9094},{"x":-0.4,"y":9102},{"x":-0.26,"y":9010},{"x":-0.16,"y":8997},{"x":-0.06,"y":8865},{"x":0.04,"y":8873},{"x":0.14,"y":9193},{"x":0.26,"y":9114},{"x":0.4,"y":9134},{"x":0.5,"y":8869},{"x":0.6,"y":8862},{"x":0.7,"y":8497},{"x":0.76,"y":8361},{"x":0.83,"y":8191},{"x":0.9,"y":8478},{"x":1.0,"y":8650},{"x":1.12,"y":9099},{"x":1.3,"y":9169},{"x":1.55,"y":9434},{"x":1.8,"y":9338},{"x":2.05,"y":9386},{"x":2.3,"y":9340},{"x":2.48,"y":9003},{"x":2.65,"y":8773},{"x":2.8,"y":8509},{"x":2.9,"y":7877},{"x":2.99,"y":7352},{"x":3.09,"y":7032},{"x":3.19,"y":7215},{"x":3.29,"y":8028},{"x":3.42,"y":8624},{"x":3.6,"y":9128},{"x":3.85,"y":9211},{"x":4.1,"y":9414},{"x":4.35,"y":9267},{"x":4.55,"y":9099},{"x":4.7,"y":9051},{"x":4.84,"y":8862},{"x":4.98,"y":8497},{"x":5.1,"y":8219},{"x":5.2,"y":7590},{"x":5.3,"y":6867},{"x":5.4,"y":6268},{"x":5.5,"y":6930},{"x":5.6,"y":7626},{"x":5.75,"y":8577},{"x":5.98,"y":8980},{"x":6.3,"y":9432},
{"x":6.45,"y":9408},{"x":6.6,"y":9541},{"x":6.75,"y":9422},{"x":6.9,"y":9525},{"x":7.05,"y":9478},{"x":7.2,"y":9633},{"x":7.35,"y":9437},{"x":7.5,"y":9587},{"x":7.65,"y":9616},{"x":7.8,"y":9524},{"x":7.95,"y":9467},{"x":8.1,"y":9613},{"x":8.25,"y":9508},{"x":8.4,"y":9569},{"x":8.55,"y":9655},{"x":8.7,"y":9488},{"x":8.85,"y":9596},{"x":9.0,"y":9501},{"x":9.15,"y":9597},{"x":9.3,"y":9502},{"x":9.45,"y":9646},{"x":9.6,"y":9538},{"x":9.75,"y":9670},{"x":9.9,"y":9490},{"x":10.05,"y":9574},{"x":10.2,"y":9466},{"x":10.35,"y":9609},{"x":10.5,"y":9633},{"x":10.65,"y":9525},{"x":10.8,"y":9452},{"x":10.95,"y":9620},{"x":11.1,"y":9547},{"x":11.25,"y":9655},{"x":11.4,"y":9474},{"x":11.55,"y":9582},{"x":11.7,"y":9509},{"x":11.85,"y":9677},{"x":12.0,"y":9484}
]
},
"bounds":"flush",
"columns":2,
"spacing":{"row":3,"column":23},
"resolve":{"scale":{"color":"shared"},"legend":{"color":"shared"}},
"concat":[
  {"width":279,"height":38,"layer":[
   {"data":{"name":"res"},"mark":{"type":"line","color":"#ff1a1a","strokeWidth":1,"clip":true},"encoding":{"x":{"field":"x","type":"quantitative","scale":{"domain":[-10.54,12],"nice":false,"zero":false},"axis":null},"y":{"field":"a","type":"quantitative","title":null,"scale":{"domain":[-245,255],"nice":false,"zero":false},"axis":{"values":[-200,0,200],"title":null,"labelOverlap":false}}}},
   {"data":{"values":[{"z":0}]},"mark":{"type":"rule","color":"#8c8c8c","strokeWidth":1},"encoding":{"y":{"datum":0,"title":null,"axis":{"values":[-200,0,200],"title":null,"labelOverlap":false}}}}
  ]},
  {"width":280,"height":38,"layer":[
   {"data":{"name":"res"},"mark":{"type":"line","color":"#ff1a1a","strokeWidth":1,"clip":true},"encoding":{"x":{"field":"x","type":"quantitative","scale":{"domain":[-10.54,12],"nice":false,"zero":false},"axis":null},"y":{"field":"b","type":"quantitative","title":null,"scale":{"domain":[-277,286],"nice":false,"zero":false},"axis":{"orient":"right","values":[-200,0,200],"title":null,"labelOverlap":false}}}},
   {"data":{"values":[{"z":0}]},"mark":{"type":"rule","color":"#8c8c8c","strokeWidth":1},"encoding":{"y":{"datum":0,"title":null,"axis":{"orient":"right","values":[-200,0,200],"title":null,"labelOverlap":false}}}}
  ]},
  {"width":279,"height":151,"layer":[
   {"data":{"name":"ca"},"mark":{"type":"line","interpolate":"monotone","strokeWidth":1.3,"clip":true},"encoding":{"x":{"field":"x","type":"quantitative","scale":{"domain":[-10.54,12],"nice":false,"zero":false},"axis":null},"y":{"field":"k","type":"quantitative","title":"Counts","scale":{"domain":[3700,6490],"nice":false,"zero":false},"axis":{"values":[4000,4500,5000,5500,6000],"format":"d","labelOverlap":false,"titleX":-49,"titleY":75,"titleBaseline":"bottom","titleAlign":"center","titleAngle":270}},"color":{"datum":"Kamacite","scale":{"domain":["Experimental data","and residual","Kamacite","Schreibersite","Antitaenite","Tetrataenite","Resulting fit"],"range":["#ff1a1a","rgba(255,255,255,0)","#3434b4","#d6a03c","#aa3aaa","#3c9e3c","#000000"]},"legend":{"title":null}}}},
   {"data":{"name":"ca"},"mark":{"type":"line","interpolate":"monotone","strokeWidth":1.3,"clip":true},"encoding":{"x":{"field":"x","type":"quantitative"},"y":{"field":"s","type":"quantitative","title":"Counts","axis":{"values":[4000,4500,5000,5500,6000],"format":"d","labelOverlap":false,"titleX":-49,"titleY":75,"titleBaseline":"bottom","titleAlign":"center","titleAngle":270}},"color":{"datum":"Schreibersite","scale":{"domain":["Experimental data","and residual","Kamacite","Schreibersite","Antitaenite","Tetrataenite","Resulting fit"],"range":["#ff1a1a","rgba(255,255,255,0)","#3434b4","#d6a03c","#aa3aaa","#3c9e3c","#000000"]},"legend":{"title":null}}}},
   {"data":{"name":"da"},"mark":{"type":"line","color":"#ff1a1a","strokeWidth":1,"clip":true},"encoding":{"x":{"field":"x","type":"quantitative"},"y":{"field":"y","type":"quantitative","title":"Counts","axis":{"values":[4000,4500,5000,5500,6000],"format":"d","labelOverlap":false,"titleX":-49,"titleY":75,"titleBaseline":"bottom","titleAlign":"center","titleAngle":270}}}},
   {"data":{"name":"ca"},"mark":{"type":"line","interpolate":"monotone","strokeWidth":1.3,"clip":true},"encoding":{"x":{"field":"x","type":"quantitative"},"y":{"field":"f","type":"quantitative","title":"Counts","axis":{"values":[4000,4500,5000,5500,6000],"format":"d","labelOverlap":false,"titleX":-49,"titleY":75,"titleBaseline":"bottom","titleAlign":"center","titleAngle":270}},"color":{"datum":"Resulting fit","scale":{"domain":["Experimental data","and residual","Kamacite","Schreibersite","Antitaenite","Tetrataenite","Resulting fit"],"range":["#ff1a1a","rgba(255,255,255,0)","#3434b4","#d6a03c","#aa3aaa","#3c9e3c","#000000"]},"legend":{"title":null}}}},
   {"data":{"values":[{"x":-9.57,"y":3995,"t":"a"}]},"mark":{"type":"text","fontSize":14,"font":"Liberation Sans","color":"#000"},"encoding":{"x":{"field":"x","type":"quantitative"},"y":{"field":"y","type":"quantitative","title":"Counts","axis":{"values":[4000,4500,5000,5500,6000],"format":"d","labelOverlap":false,"titleX":-49,"titleY":75,"titleBaseline":"bottom","titleAlign":"center","titleAngle":270}},"text":{"field":"t"}}}
  ]},
  {"width":280,"height":150,"layer":[
   {"data":{"name":"cb"},"mark":{"type":"line","interpolate":"monotone","strokeWidth":1.3,"clip":true},"encoding":{"x":{"field":"x","type":"quantitative","scale":{"domain":[-10.54,12],"nice":false,"zero":false},"axis":null},"y":{"field":"k","type":"quantitative","title":"Counts","scale":{"domain":[7263,10985],"nice":false,"zero":false},"axis":{"orient":"right","values":[8000,9000,10000],"labelOverlap":false,"labelExpr":"datum.value == 10000 ? '10x10³' : format(datum.value/1000,'d')","titleX":57,"titleY":75,"titleBaseline":"bottom","titleAlign":"center","titleAngle":270}},"color":{"datum":"Kamacite","scale":{"domain":["Experimental data","and residual","Kamacite","Schreibersite","Antitaenite","Tetrataenite","Resulting fit"],"range":["#ff1a1a","rgba(255,255,255,0)","#3434b4","#d6a03c","#aa3aaa","#3c9e3c","#000000"]},"legend":{"title":null}}}},
   {"data":{"name":"cb"},"mark":{"type":"line","interpolate":"monotone","strokeWidth":1.3,"clip":true},"encoding":{"x":{"field":"x","type":"quantitative"},"y":{"field":"t","type":"quantitative","title":"Counts","axis":{"orient":"right","values":[8000,9000,10000],"labelOverlap":false,"labelExpr":"datum.value == 10000 ? '10x10³' : format(datum.value/1000,'d')","titleX":57,"titleY":75,"titleBaseline":"bottom","titleAlign":"center","titleAngle":270}},"color":{"datum":"Tetrataenite","scale":{"domain":["Experimental data","and residual","Kamacite","Schreibersite","Antitaenite","Tetrataenite","Resulting fit"],"range":["#ff1a1a","rgba(255,255,255,0)","#3434b4","#d6a03c","#aa3aaa","#3c9e3c","#000000"]},"legend":{"title":null}}}},
   {"data":{"name":"cb"},"mark":{"type":"line","interpolate":"monotone","strokeWidth":1.3,"clip":true},"encoding":{"x":{"field":"x","type":"quantitative"},"y":{"field":"n","type":"quantitative","title":"Counts","axis":{"orient":"right","values":[8000,9000,10000],"labelOverlap":false,"labelExpr":"datum.value == 10000 ? '10x10³' : format(datum.value/1000,'d')","titleX":57,"titleY":75,"titleBaseline":"bottom","titleAlign":"center","titleAngle":270}},"color":{"datum":"Antitaenite","scale":{"domain":["Experimental data","and residual","Kamacite","Schreibersite","Antitaenite","Tetrataenite","Resulting fit"],"range":["#ff1a1a","rgba(255,255,255,0)","#3434b4","#d6a03c","#aa3aaa","#3c9e3c","#000000"]},"legend":{"title":null}}}},
   {"data":{"name":"db"},"mark":{"type":"line","color":"#ff1a1a","strokeWidth":1,"clip":true},"encoding":{"x":{"field":"x","type":"quantitative"},"y":{"field":"y","type":"quantitative","title":"Counts","axis":{"orient":"right","values":[8000,9000,10000],"labelOverlap":false,"labelExpr":"datum.value == 10000 ? '10x10³' : format(datum.value/1000,'d')","titleX":57,"titleY":75,"titleBaseline":"bottom","titleAlign":"center","titleAngle":270}}}},
   {"data":{"name":"cb"},"mark":{"type":"line","interpolate":"monotone","strokeWidth":1.3,"clip":true},"encoding":{"x":{"field":"x","type":"quantitative"},"y":{"field":"f","type":"quantitative","title":"Counts","axis":{"orient":"right","values":[8000,9000,10000],"labelOverlap":false,"labelExpr":"datum.value == 10000 ? '10x10³' : format(datum.value/1000,'d')","titleX":57,"titleY":75,"titleBaseline":"bottom","titleAlign":"center","titleAngle":270}},"color":{"datum":"Resulting fit","scale":{"domain":["Experimental data","and residual","Kamacite","Schreibersite","Antitaenite","Tetrataenite","Resulting fit"],"range":["#ff1a1a","rgba(255,255,255,0)","#3434b4","#d6a03c","#aa3aaa","#3c9e3c","#000000"]},"legend":{"title":null}}}},
   {"data":{"values":[{"x":-9.35,"y":7586,"t":"b"}]},"mark":{"type":"text","fontSize":14,"font":"Liberation Sans","color":"#000"},"encoding":{"x":{"field":"x","type":"quantitative"},"y":{"field":"y","type":"quantitative","title":"Counts","axis":{"orient":"right","values":[8000,9000,10000],"labelOverlap":false,"labelExpr":"datum.value == 10000 ? '10x10³' : format(datum.value/1000,'d')","titleX":57,"titleY":75,"titleBaseline":"bottom","titleAlign":"center","titleAngle":270}},"text":{"field":"t"}}}
  ]},
  {"width":279,"height":40,"layer":[
   {"data":{"name":"res"},"mark":{"type":"line","color":"#ff1a1a","strokeWidth":1,"clip":true},"encoding":{"x":{"field":"x","type":"quantitative","scale":{"domain":[-10.54,12],"nice":false,"zero":false},"axis":null},"y":{"field":"c","type":"quantitative","title":null,"scale":{"domain":[-455,553],"nice":false,"zero":false},"axis":{"values":[-200,0,200],"title":null,"labelOverlap":false,"labelExpr":"datum.value == 0 ? '' : datum.label"}}}},
   {"data":{"values":[{"z":0}]},"mark":{"type":"rule","color":"#555555","strokeWidth":1},"encoding":{"y":{"datum":0,"title":null,"axis":{"values":[-200,0,200],"title":null,"labelOverlap":false,"labelExpr":"datum.value == 0 ? '' : datum.label"}}}}
  ]},
  {"width":280,"height":40,"layer":[
   {"data":{"name":"res"},"mark":{"type":"line","color":"#ff1a1a","strokeWidth":1,"clip":true},"encoding":{"x":{"field":"x","type":"quantitative","scale":{"domain":[-10.54,12],"nice":false,"zero":false},"axis":null},"y":{"field":"d","type":"quantitative","title":null,"scale":{"domain":[-374,426],"nice":false,"zero":false},"axis":{"orient":"right","values":[-300,0,300],"title":null,"labelOverlap":false,"labelExpr":"datum.value == 0 ? '' : datum.label"}}}},
   {"data":{"values":[{"z":0}]},"mark":{"type":"rule","color":"#555555","strokeWidth":1},"encoding":{"y":{"datum":0,"title":null,"axis":{"orient":"right","values":[-300,0,300],"title":null,"labelOverlap":false,"labelExpr":"datum.value == 0 ? '' : datum.label"}}}}
  ]},
  {"width":279,"height":155,"layer":[
   {"data":{"name":"cc"},"mark":{"type":"line","interpolate":"monotone","strokeWidth":1.3,"clip":true},"encoding":{"x":{"field":"x","type":"quantitative","scale":{"domain":[-10.54,12],"nice":false,"zero":false},"axis":{"values":[-10,-5,0,5,10],"title":"Velocity mm/s","titlePadding":4,"labelOverlap":false}},"y":{"field":"k","type":"quantitative","title":"Counts","scale":{"domain":[6300,11384],"nice":false,"zero":false},"axis":{"values":[7000,8000,9000,10000,11000],"labelOverlap":false,"labelExpr":"datum.value == 11000 ? '11x10³' : format(datum.value/1000,'d')","titleX":-33,"titleY":77,"titleBaseline":"bottom","titleAlign":"center","titleAngle":270}},"color":{"datum":"Kamacite","scale":{"domain":["Experimental data","and residual","Kamacite","Schreibersite","Antitaenite","Tetrataenite","Resulting fit"],"range":["#ff1a1a","rgba(255,255,255,0)","#3434b4","#d6a03c","#aa3aaa","#3c9e3c","#000000"]},"legend":{"title":null}}}},
   {"data":{"name":"cc"},"mark":{"type":"line","interpolate":"monotone","strokeWidth":1.3,"clip":true},"encoding":{"x":{"field":"x","type":"quantitative","title":"Velocity mm/s"},"y":{"field":"t","type":"quantitative","title":"Counts","axis":{"values":[7000,8000,9000,10000,11000],"labelOverlap":false,"labelExpr":"datum.value == 11000 ? '11x10³' : format(datum.value/1000,'d')","titleX":-33,"titleY":77,"titleBaseline":"bottom","titleAlign":"center","titleAngle":270}},"color":{"datum":"Tetrataenite","scale":{"domain":["Experimental data","and residual","Kamacite","Schreibersite","Antitaenite","Tetrataenite","Resulting fit"],"range":["#ff1a1a","rgba(255,255,255,0)","#3434b4","#d6a03c","#aa3aaa","#3c9e3c","#000000"]},"legend":{"title":null}}}},
   {"data":{"name":"cc"},"mark":{"type":"line","interpolate":"monotone","strokeWidth":1.3,"clip":true},"encoding":{"x":{"field":"x","type":"quantitative","title":"Velocity mm/s"},"y":{"field":"n","type":"quantitative","title":"Counts","axis":{"values":[7000,8000,9000,10000,11000],"labelOverlap":false,"labelExpr":"datum.value == 11000 ? '11x10³' : format(datum.value/1000,'d')","titleX":-33,"titleY":77,"titleBaseline":"bottom","titleAlign":"center","titleAngle":270}},"color":{"datum":"Antitaenite","scale":{"domain":["Experimental data","and residual","Kamacite","Schreibersite","Antitaenite","Tetrataenite","Resulting fit"],"range":["#ff1a1a","rgba(255,255,255,0)","#3434b4","#d6a03c","#aa3aaa","#3c9e3c","#000000"]},"legend":{"title":null}}}},
   {"data":{"name":"dc"},"mark":{"type":"line","color":"#ff1a1a","strokeWidth":1,"clip":true},"encoding":{"x":{"field":"x","type":"quantitative","title":"Velocity mm/s"},"y":{"field":"y","type":"quantitative","title":"Counts","axis":{"values":[7000,8000,9000,10000,11000],"labelOverlap":false,"labelExpr":"datum.value == 11000 ? '11x10³' : format(datum.value/1000,'d')","titleX":-33,"titleY":77,"titleBaseline":"bottom","titleAlign":"center","titleAngle":270}}}},
   {"data":{"name":"cc"},"mark":{"type":"line","interpolate":"monotone","strokeWidth":1.3,"clip":true},"encoding":{"x":{"field":"x","type":"quantitative","title":"Velocity mm/s"},"y":{"field":"f","type":"quantitative","title":"Counts","axis":{"values":[7000,8000,9000,10000,11000],"labelOverlap":false,"labelExpr":"datum.value == 11000 ? '11x10³' : format(datum.value/1000,'d')","titleX":-33,"titleY":77,"titleBaseline":"bottom","titleAlign":"center","titleAngle":270}},"color":{"datum":"Resulting fit","scale":{"domain":["Experimental data","and residual","Kamacite","Schreibersite","Antitaenite","Tetrataenite","Resulting fit"],"range":["#ff1a1a","rgba(255,255,255,0)","#3434b4","#d6a03c","#aa3aaa","#3c9e3c","#000000"]},"legend":{"title":null}}}},
   {"data":{"values":[{"x":-9.65,"y":6760,"t":"c"}]},"mark":{"type":"text","fontSize":14,"font":"Liberation Sans","color":"#000"},"encoding":{"x":{"field":"x","type":"quantitative","title":"Velocity mm/s"},"y":{"field":"y","type":"quantitative","title":"Counts","axis":{"values":[7000,8000,9000,10000,11000],"labelOverlap":false,"labelExpr":"datum.value == 11000 ? '11x10³' : format(datum.value/1000,'d')","titleX":-33,"titleY":77,"titleBaseline":"bottom","titleAlign":"center","titleAngle":270}},"text":{"field":"t"}}}
  ]},
  {"width":280,"height":156,"layer":[
   {"data":{"name":"cd"},"mark":{"type":"line","interpolate":"monotone","strokeWidth":1.3,"clip":true},"encoding":{"x":{"field":"x","type":"quantitative","scale":{"domain":[-10.54,12],"nice":false,"zero":false},"axis":{"values":[-10,-5,0,5,10],"title":"Velocity mm/s","titlePadding":4,"labelOverlap":false}},"y":{"field":"k","type":"quantitative","title":"Counts","scale":{"domain":[6357,10476],"nice":false,"zero":false},"axis":{"orient":"right","values":[7000,8000,9000,10000],"labelOverlap":false,"labelExpr":"datum.value == 10000 ? '10x10³' : format(datum.value/1000,'d')","titleX":59,"titleY":78,"titleBaseline":"bottom","titleAlign":"center","titleAngle":270}},"color":{"datum":"Kamacite","scale":{"domain":["Experimental data","and residual","Kamacite","Schreibersite","Antitaenite","Tetrataenite","Resulting fit"],"range":["#ff1a1a","rgba(255,255,255,0)","#3434b4","#d6a03c","#aa3aaa","#3c9e3c","#000000"]},"legend":{"title":null}}}},
   {"data":{"name":"cd"},"mark":{"type":"line","interpolate":"monotone","strokeWidth":1.3,"clip":true},"encoding":{"x":{"field":"x","type":"quantitative","title":"Velocity mm/s"},"y":{"field":"t","type":"quantitative","title":"Counts","axis":{"orient":"right","values":[7000,8000,9000,10000],"labelOverlap":false,"labelExpr":"datum.value == 10000 ? '10x10³' : format(datum.value/1000,'d')","titleX":59,"titleY":78,"titleBaseline":"bottom","titleAlign":"center","titleAngle":270}},"color":{"datum":"Tetrataenite","scale":{"domain":["Experimental data","and residual","Kamacite","Schreibersite","Antitaenite","Tetrataenite","Resulting fit"],"range":["#ff1a1a","rgba(255,255,255,0)","#3434b4","#d6a03c","#aa3aaa","#3c9e3c","#000000"]},"legend":{"title":null}}}},
   {"data":{"name":"cd"},"mark":{"type":"line","interpolate":"monotone","strokeWidth":1.3,"clip":true},"encoding":{"x":{"field":"x","type":"quantitative","title":"Velocity mm/s"},"y":{"field":"n","type":"quantitative","title":"Counts","axis":{"orient":"right","values":[7000,8000,9000,10000],"labelOverlap":false,"labelExpr":"datum.value == 10000 ? '10x10³' : format(datum.value/1000,'d')","titleX":59,"titleY":78,"titleBaseline":"bottom","titleAlign":"center","titleAngle":270}},"color":{"datum":"Antitaenite","scale":{"domain":["Experimental data","and residual","Kamacite","Schreibersite","Antitaenite","Tetrataenite","Resulting fit"],"range":["#ff1a1a","rgba(255,255,255,0)","#3434b4","#d6a03c","#aa3aaa","#3c9e3c","#000000"]},"legend":{"title":null}}}},
   {"data":{"name":"dd"},"mark":{"type":"line","color":"#ff1a1a","strokeWidth":1,"clip":true},"encoding":{"x":{"field":"x","type":"quantitative","title":"Velocity mm/s"},"y":{"field":"y","type":"quantitative","title":"Counts","axis":{"orient":"right","values":[7000,8000,9000,10000],"labelOverlap":false,"labelExpr":"datum.value == 10000 ? '10x10³' : format(datum.value/1000,'d')","titleX":59,"titleY":78,"titleBaseline":"bottom","titleAlign":"center","titleAngle":270}}}},
   {"data":{"name":"cd"},"mark":{"type":"line","interpolate":"monotone","strokeWidth":1.3,"clip":true},"encoding":{"x":{"field":"x","type":"quantitative","title":"Velocity mm/s"},"y":{"field":"f","type":"quantitative","title":"Counts","axis":{"orient":"right","values":[7000,8000,9000,10000],"labelOverlap":false,"labelExpr":"datum.value == 10000 ? '10x10³' : format(datum.value/1000,'d')","titleX":59,"titleY":78,"titleBaseline":"bottom","titleAlign":"center","titleAngle":270}},"color":{"datum":"Resulting fit","scale":{"domain":["Experimental data","and residual","Kamacite","Schreibersite","Antitaenite","Tetrataenite","Resulting fit"],"range":["#ff1a1a","rgba(255,255,255,0)","#3434b4","#d6a03c","#aa3aaa","#3c9e3c","#000000"]},"legend":{"title":null}}}},
   {"data":{"values":[{"x":-10.6,"y":6780,"t":"d"}]},"mark":{"type":"text","fontSize":14,"font":"Liberation Sans","color":"#000"},"encoding":{"x":{"field":"x","type":"quantitative","title":"Velocity mm/s"},"y":{"field":"y","type":"quantitative","title":"Counts","axis":{"orient":"right","values":[7000,8000,9000,10000],"labelOverlap":false,"labelExpr":"datum.value == 10000 ? '10x10³' : format(datum.value/1000,'d')","titleX":59,"titleY":78,"titleBaseline":"bottom","titleAlign":"center","titleAngle":270}},"text":{"field":"t"}}}
  ]}
]
}
